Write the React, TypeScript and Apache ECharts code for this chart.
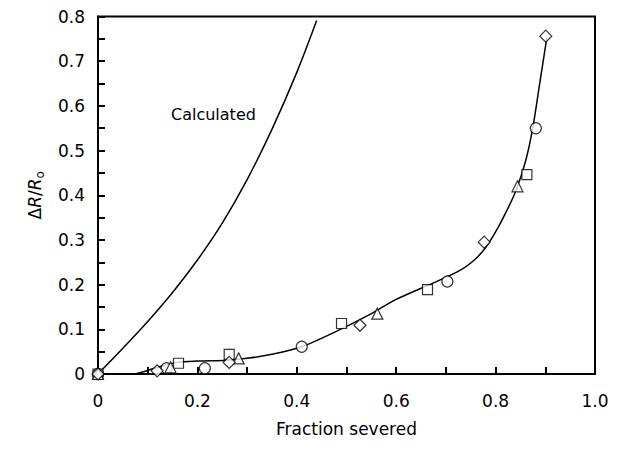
import React, { useEffect, useRef } from "react";
import * as echarts from "echarts";

const calculatedX = [0, 0.05, 0.1, 0.15, 0.2, 0.25, 0.3, 0.35, 0.4, 0.44];
const calculatedY = [0, 0.0575, 0.1175, 0.1825, 0.255, 0.3375, 0.435, 0.5475, 0.675, 0.791];

const fitX = [0.074, 0.1, 0.12, 0.16, 0.2, 0.26, 0.3, 0.35, 0.41, 0.49, 0.55, 0.6, 0.675, 0.73, 0.76, 0.78, 0.8, 0.82, 0.84, 0.86, 0.875, 0.889, 0.903];
const fitY = [0, 0.008, 0.015, 0.026, 0.029, 0.031, 0.035, 0.044, 0.061, 0.101, 0.135, 0.167, 0.204, 0.233, 0.258, 0.283, 0.318, 0.36, 0.408, 0.475, 0.552, 0.652, 0.752];

const squareX = [0, 0.162, 0.264, 0.49, 0.663, 0.863];
const squareY = [0, 0.024, 0.044, 0.113, 0.189, 0.446];
const circleX = [0, 0.138, 0.215, 0.41, 0.703, 0.881];
const circleY = [0, 0.013, 0.013, 0.061, 0.207, 0.55];
const triangleX = [0, 0.146, 0.283, 0.562, 0.844];
const triangleY = [0, 0.015, 0.035, 0.135, 0.42];
const diamondX = [0, 0.119, 0.264, 0.527, 0.777, 0.901];
const diamondY = [0, 0.007, 0.026, 0.109, 0.295, 0.756];

const zip = (xs: number[], ys: number[]) => xs.map((x, i) => [x, ys[i]]);

const FONT = "DejaVu Sans";

export default function App() {
  const ref = useRef<HTMLDivElement>(null);
  useEffect(() => {
    if (!ref.current) return;
    const chart = echarts.init(ref.current, undefined, { renderer: "svg" });
    const markerStyle = { color: "#fff", borderColor: "#000", borderWidth: 1.2 };
    const scatter = (name: string, symbol: string, size: number, xs: number[], ys: number[]) => ({
      name,
      type: "scatter",
      symbol,
      symbolSize: size,
      itemStyle: markerStyle,
      data: zip(xs, ys),
      z: 5,
    });
    chart.setOption({
      animation: false,
      grid: { left: 90, top: 7, right: 25, bottom: 67, show: true, borderColor: "#000", borderWidth: 2 },
      xAxis: {
        type: "value",
        min: 0,
        max: 1,
        interval: 0.2,
        name: "Fraction severed",
        nameLocation: "middle",
        nameGap: 46,
        nameTextStyle: { fontFamily: FONT, fontSize: 17, color: "#000" },
        axisLine: { show: true, lineStyle: { color: "#000", width: 2 } },
        axisTick: { show: true, inside: true, length: 7, lineStyle: { color: "#000", width: 2 } },
        minorTick: { show: true, splitNumber: 2, length: 7, lineStyle: { color: "#000", width: 2 } },
        splitLine: { show: false },
        axisLabel: {
          margin: 18,
          fontFamily: FONT,
          fontSize: 17,
          color: "#000",
          formatter: (v: number) => (v === 0 ? "0" : v.toFixed(1)),
        },
      },
      yAxis: {
        type: "value",
        min: 0,
        max: 0.8,
        interval: 0.1,
        name: "{d|Δ}{i|R}{d|/}{i|R}{s|o}",
        nameLocation: "middle",
        nameGap: 52,
        nameTextStyle: {
          fontFamily: FONT,
          fontSize: 17,
          color: "#000",
          rich: {
            d: { fontFamily: FONT, fontSize: 17, color: "#000", lineHeight: 22 },
            i: { fontFamily: FONT, fontSize: 17, fontStyle: "italic", color: "#000", lineHeight: 22 },
            s: { fontFamily: FONT, fontSize: 12, color: "#000", lineHeight: 22, verticalAlign: "bottom", padding: [7, 0, 0, 0] },
          },
        },
        axisLine: { show: true, lineStyle: { color: "#000", width: 2 } },
        axisTick: { show: true, inside: true, length: 7, lineStyle: { color: "#000", width: 2 } },
        minorTick: { show: true, splitNumber: 2, length: 7, lineStyle: { color: "#000", width: 2 } },
        splitLine: { show: false },
        axisLabel: {
          margin: 13,
          fontFamily: FONT,
          fontSize: 17,
          color: "#000",
          formatter: (v: number) => (v === 0 ? "0" : v.toFixed(1)),
        },
      },
      graphic: [
        {
          type: "text",
          left: 163,
          top: 98,
          style: { text: "Calculated", fontFamily: FONT, fontSize: 16, fill: "#000" },
        },
      ],
      series: [
        {
          name: "Calculated",
          type: "line",
          data: zip(calculatedX, calculatedY),
          smooth: 0.3,
          showSymbol: false,
          lineStyle: { color: "#000", width: 1.5 },
          z: 2,
        },
        {
          name: "Fit",
          type: "line",
          data: zip(fitX, fitY),
          smooth: 0.3,
          showSymbol: false,
          lineStyle: { color: "#000", width: 1.5 },
          z: 2,
        },
        scatter("Square", "rect", 10, squareX, squareY),
        scatter("Circle", "circle", 11, circleX, circleY),
        scatter("Triangle", "triangle", 11, triangleX, triangleY),
        scatter("Diamond", "diamond", 12, diamondX, diamondY),
      ],
    });
    return () => chart.dispose();
  }, []);
  return <div ref={ref} style={{ width: 612, height: 434 }} />;
}
